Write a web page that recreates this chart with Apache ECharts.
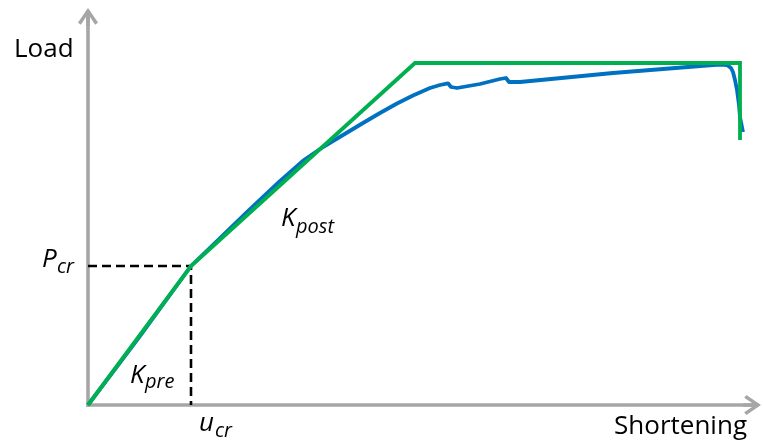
<!DOCTYPE html>
<html>
<head>
<meta charset="utf-8">
<script src="https://cdn.jsdelivr.net/npm/echarts@6/dist/echarts.min.js"></script>
<style>
  html, body { margin: 0; padding: 0; background: #ffffff; }
  #chart { width: 763px; height: 446px; }
</style>
</head>
<body>
<div id="chart"></div>
<script>
// Load–shortening response of a plate: measured curve and bilinear idealisation
const shortening = [0, 52, 103, 131, 161, 191, 216, 235, 255, 275, 292, 309, 325, 342, 352, 360, 363, 369, 392, 412, 418, 421, 432, 525, 625, 632, 639, 643, 645, 647, 649, 651, 652, 655];
const load       = [0, 69, 139, 166, 195, 223, 245, 258, 270, 282, 292, 301.5, 309.5, 317, 320, 321.7, 318, 317, 321, 326, 327, 323, 323, 332, 340, 340.5, 340, 337, 333, 325, 315, 300, 288, 273];

// Idealised response: K_pre up to the critical point, K_post up to the plateau, then unloading
const idealShortening = [0, 103, 327, 652, 652];
const idealLoad       = [0, 139, 342, 342, 265];

// Critical point (u_cr, P_cr)
const uCr = 103;
const pCr = 139;

const axisMaxX = 664;
const axisMaxY = 388;

const zip = (xs, ys) => xs.map((x, i) => [x, ys[i]]);

const axisGrey = '#a6a6a6';
// open arrow head with a short stem so the axis line runs into the tip
const arrowPath = 'path://M10,0 L20,14.6 L17.2,16.8 L10,6 L2.8,16.8 L0,14.6 Z M8.2,2 L11.8,2 L11.8,18 L8.2,18 Z';

const axisBase = {
  type: 'value',
  min: 0,
  splitLine: { show: false },
  axisTick: { show: false },
  axisLabel: { show: false },
  axisLine: {
    show: true,
    symbol: ['none', arrowPath],
    symbolSize: [20, 18],
    lineStyle: { color: axisGrey, width: 3.6, cap: 'square' }
  }
};

const chart = echarts.init(document.getElementById('chart'), null, { renderer: 'canvas' });

chart.setOption({
  animation: false,
  backgroundColor: '#ffffff',
  grid: { left: 88, right: 11, top: 17, bottom: 41, containLabel: false },
  xAxis: Object.assign({}, axisBase, { max: axisMaxX }),
  yAxis: Object.assign({}, axisBase, { max: axisMaxY }),
  series: [
    {
      name: 'critical',
      type: 'line',
      data: [[0, pCr], [uCr, pCr], [uCr, 0]],
      symbol: 'none',
      lineStyle: { color: '#000000', width: 2.6, type: [9, 5] },
      z: 1
    },
    {
      name: 'measured',
      type: 'line',
      data: zip(shortening, load),
      symbol: 'none',
      smooth: false,
      lineStyle: { color: '#0070c0', width: 3.8, join: 'round' },
      z: 2
    },
    {
      name: 'idealised',
      type: 'line',
      data: zip(idealShortening, idealLoad),
      symbol: 'none',
      lineStyle: { color: '#00b050', width: 3.8, join: 'miter' },
      z: 3
    }
  ]
});

// Text placed by its left edge and baseline
const FONT = '"Open Sans", "Liberation Sans", sans-serif';
function label(text, x, baseline, size, italic, align) {
  return {
    type: 'text',
    x: x,
    y: baseline - 0.3 * size,
    silent: true,
    style: {
      text: text,
      font: (italic ? 'italic ' : '') + size + 'px ' + FONT,
      fill: '#000000',
      align: align || 'left',
      verticalAlign: 'middle'
    }
  };
}

const p = chart.convertToPixel({ gridIndex: 0 }, [uCr, pCr]);
const o = chart.convertToPixel({ gridIndex: 0 }, [0, 0]);

chart.setOption({
  graphic: [
    label('Load', 14, 57, 26, false),
    label('Shortening', 747, 434, 26, false, 'right'),
    // P_cr beside the y axis at the critical load
    label('P', o[0] - 46, p[1] + 1, 26, true),
    label('cr', o[0] - 31, p[1] + 7, 20, true),
    // u_cr below the x axis at the critical shortening
    label('u', p[0] + 8, o[1] + 26, 26, true),
    label('cr', p[0] + 24, o[1] + 32, 20, true),
    // stiffness labels
    label('K', 130, 383, 26, true),
    label('pre', 145, 388, 20, true),
    label('K', 281, 226, 26, true),
    label('post', 296, 233, 20, true)
  ]
});
</script>
</body>
</html>
